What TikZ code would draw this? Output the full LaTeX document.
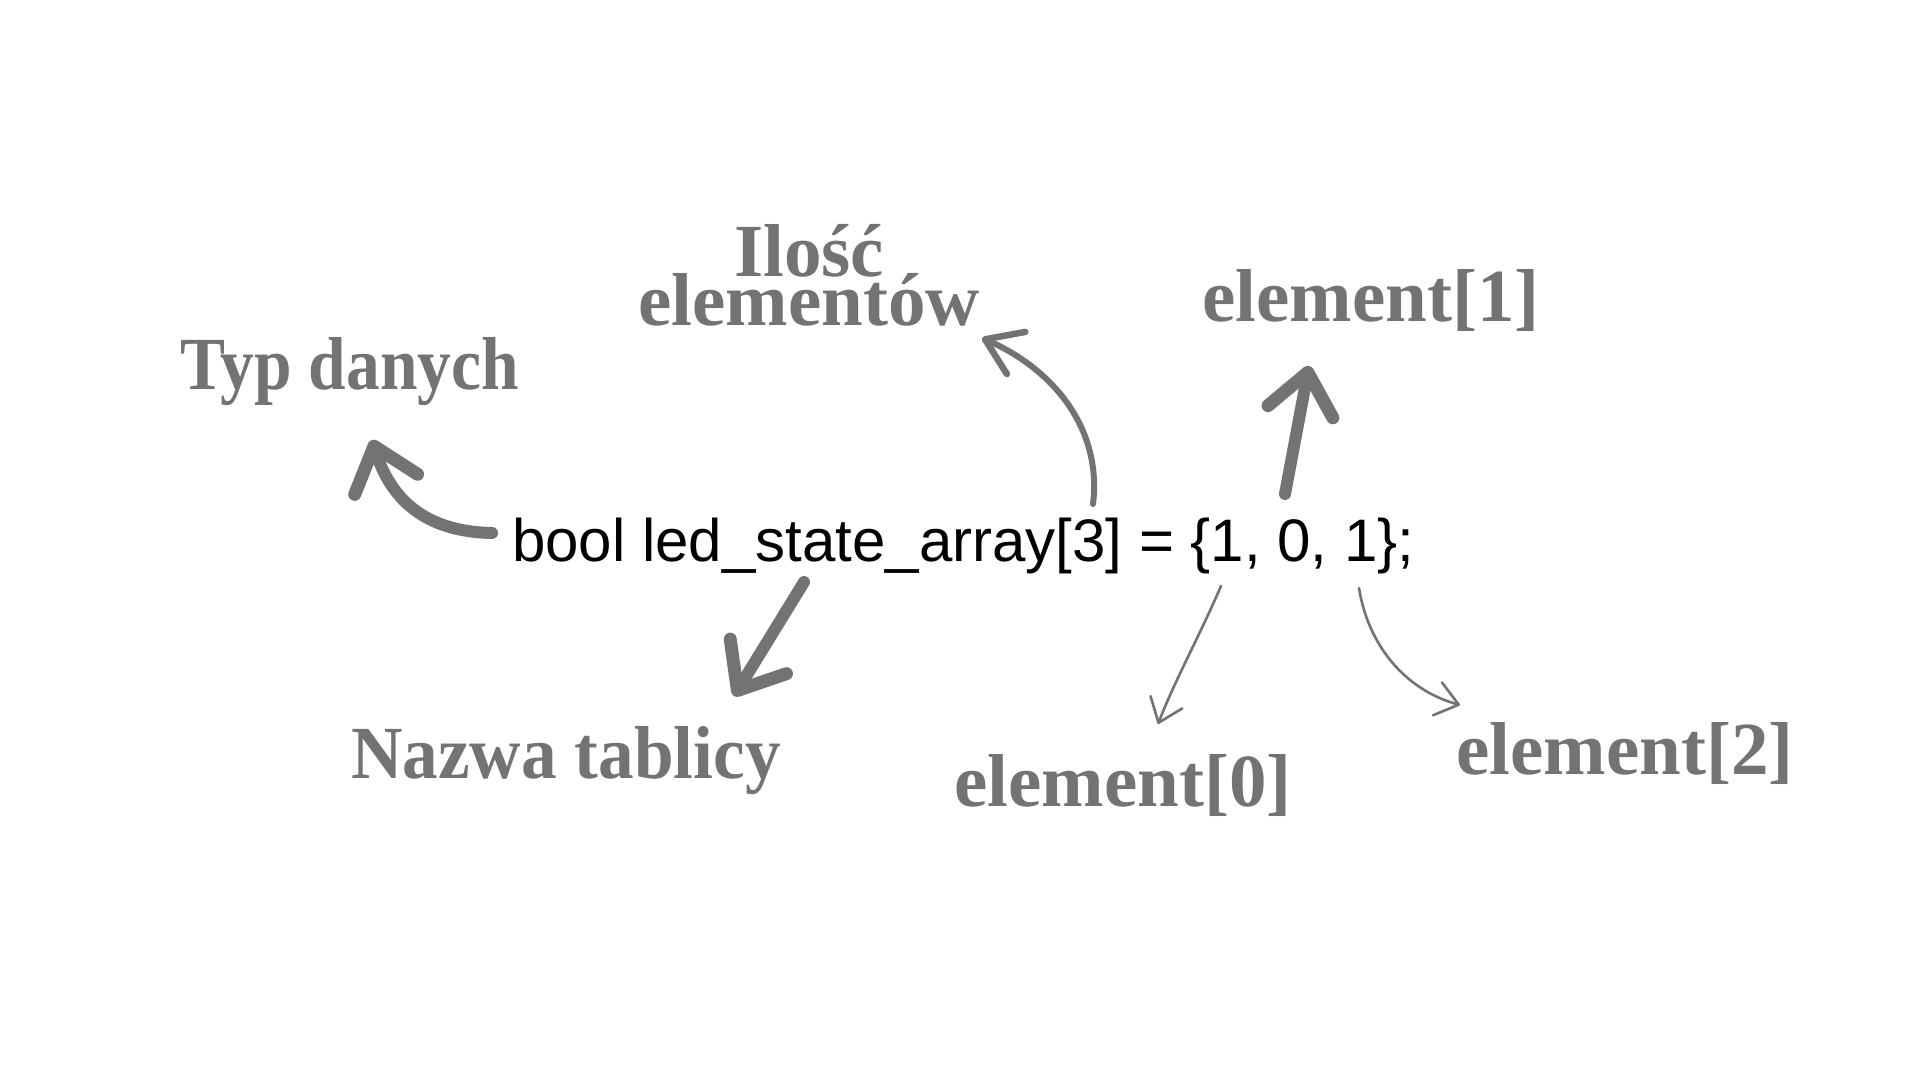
\documentclass[tikz,border=0pt]{standalone}
\usepackage{fontspec}
\usetikzlibrary{arrows.meta}
\setmainfont{Liberation Sans}
\newfontfamily\labfontA{Liberation Serif}[FakeStretch=0.9]
\newfontfamily\labfontB{Liberation Serif}[FakeStretch=0.95]
\newfontfamily\labfontC{Liberation Serif}[FakeStretch=1.0]
\newfontfamily\codefont{Liberation Sans}
\definecolor{lbl}{RGB}{115,115,115}
\begin{document}
\begin{tikzpicture}[x=1pt,y=-1pt,
  lab/.style={text=lbl, anchor=base, inner sep=0pt, align=center},
  labA/.style={lab, font=\labfontA\bfseries\fontsize{75}{46}\selectfont},
  labB/.style={lab, font=\labfontB\bfseries\fontsize{75}{46}\selectfont},
  labC/.style={lab, font=\labfontC\bfseries\fontsize{75}{46}\selectfont},
  heavyarrow/.style={draw=lbl, line width=12pt, line cap=round, line join=round,
     -{Straight Barb[length=40pt,width=66pt,line width=13pt,line cap=round,line join=round]}},
  midarrow/.style={draw=lbl, line width=6pt, line cap=round, line join=round,
     -{Straight Barb[length=34pt,width=46pt,line width=6.5pt,line cap=round,line join=round]}},
  thinarrow/.style={draw=lbl, line width=2.6pt, line cap=round, line join=round,
     -{Straight Barb[length=22pt,width=34pt,line width=2.6pt,line cap=round,line join=round]}}]
\fill[white] (0,0) rectangle (1920,1080);
\useasboundingbox (0,0) rectangle (1920,1080);

\node[anchor=base west, inner sep=0pt, font=\codefont\fontsize{60}{72}\selectfont] (code) at (512,561)
  {bool led\_state\_array[3] = \{1, 0, 1\};};

\node[labA] (typ) at (350,389) {Typ danych};
\node[labC] (ilosc) at (809,325) {Ilość\\[-5pt]elementów};
\node[labC] (el1) at (1371,321) {element[1]};
\node[labB] (nazwa) at (566,778) {Nazwa tablicy};
\node[labC] (el0) at (1123,806) {element[0]};
\node[labC] (el2) at (1625,774) {element[2]};

% arrow ends
\coordinate (typT) at (492,533);  \coordinate (typH) at (372,440);
\coordinate (ilT) at (1093,504);  \coordinate (ilH) at (982,338);
\coordinate (naT) at (804,582);   \coordinate (naH) at (734,696);
\coordinate (e1T) at (1285,494);  \coordinate (e1H) at (1309,366);
\coordinate (e0T) at (1221,586);  \coordinate (e0H) at (1158,724);
\coordinate (e2T) at (1359,588);  \coordinate (e2H) at (1460,705);

\draw[heavyarrow] (typT) .. controls (440,532) and (395,512) .. (typH);
\draw[midarrow] (ilT) .. controls (1102,430) and (1055,370) .. (ilH);
\draw[heavyarrow] (naT) -- (naH);
\draw[heavyarrow] (e1T) -- (e1H);
\draw[thinarrow] (e0T) .. controls (1200,635) and (1175,680) .. (e0H);
\draw[thinarrow] (e2T) .. controls (1368,645) and (1405,690) .. (e2H);
\end{tikzpicture}
\end{document}
